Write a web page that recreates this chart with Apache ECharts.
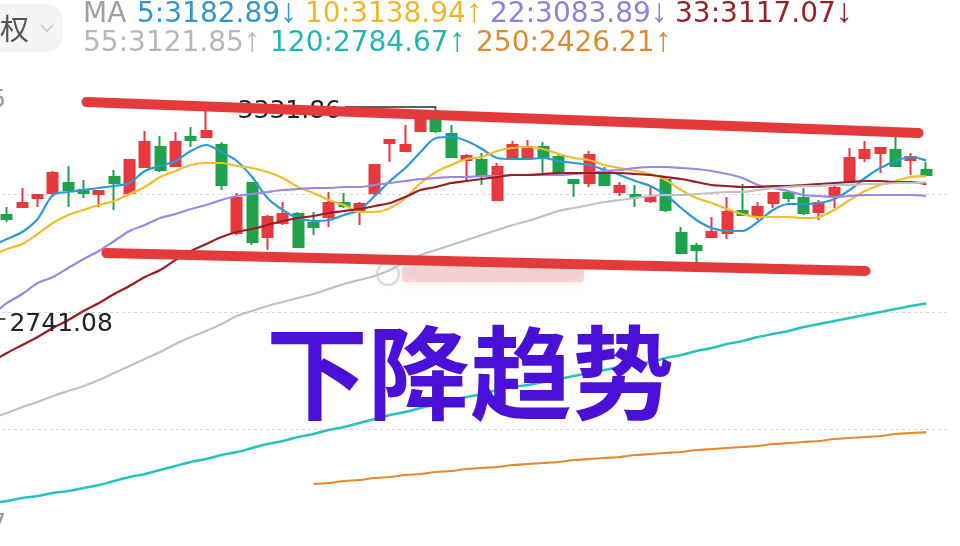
<!DOCTYPE html>
<html><head><meta charset="utf-8">
<script src="https://cdn.jsdelivr.net/npm/echarts@6/dist/echarts.min.js"></script>
<style>html,body{margin:0;padding:0;background:#fff;overflow:hidden}#c{width:960px;height:546px}</style>
</head><body><div id="c"></div>
<script>
// ---------- data (prices) ----------
// candles: [open, close, low, high]; first one is just off the left edge
const candles = [
 [2760.0, 2790.0, 2741.08, 2800.0],
 [3031.0, 3019.9, 3011.5, 3053.3],[3053.3, 3064.4, 3050.5, 3106.1],[3078.3, 3086.6, 3053.3, 3086.6],
 [3092.2, 3147.8, 3081.1, 3153.4],[3120.0, 3100.5, 3053.3, 3167.3],[3100.5, 3092.2, 3078.3, 3128.4],
 [3089.4, 3097.8, 3053.3, 3097.8],[3136.7, 3120.0, 3044.9, 3156.2],[3092.2, 3184.0, 3086.6, 3184.0],
 [3164.6, 3234.1, 3161.8, 3264.7],[3220.2, 3156.2, 3150.6, 3250.8],[3167.3, 3234.1, 3164.6, 3262.0],
 [3248.0, 3239.7, 3220.2, 3275.9],[3248.0, 3264.7, 3248.0, 3323.2],[3225.8, 3114.5, 3100.5, 3234.1],
 [2980.9, 3078.3, 2975.3, 3092.2],[3120.0, 2955.9, 2947.5, 3120.0],[2969.8, 3025.4, 2933.6, 3031.0],
 [3008.7, 3033.8, 3003.2, 3067.2],[3033.8, 2942.0, 2939.2, 3039.3],[3008.7, 2997.6, 2975.3, 3039.3],
 [3025.4, 3064.4, 2997.6, 3095.0],[3064.4, 3056.0, 3050.5, 3092.2],[3039.3, 3061.6, 3003.2, 3067.2],
 [3092.2, 3170.1, 3086.6, 3172.9],[3231.4, 3239.7, 3178.5, 3242.5],[3209.1, 3225.8, 3209.1, 3281.4],
 [3264.7, 3309.2, 3264.7, 3323.2],[3295.3, 3264.7, 3259.2, 3331.86],[3256.4, 3192.4, 3189.6, 3281.4],
 [3184.0, 3195.2, 3122.8, 3200.7],[3184.0, 3142.3, 3114.5, 3203.5],[3072.7, 3164.6, 3069.9, 3175.7],
 [3189.6, 3225.8, 3184.0, 3236.9],[3192.4, 3220.2, 3184.0, 3239.7],[3220.2, 3189.6, 3147.8, 3234.1],
 [3192.4, 3142.3, 3142.3, 3203.5],[3128.4, 3120.0, 3081.1, 3128.4],[3120.0, 3198.0, 3108.9, 3209.1],
 [3147.8, 3114.5, 3114.5, 3164.6],[3095.0, 3111.7, 3083.8, 3122.8],[3086.6, 3081.1, 3053.3, 3114.5],
 [3069.9, 3081.1, 3064.4, 3108.9],[3128.4, 3044.9, 3039.3, 3133.9],[2980.9, 2925.2, 2925.2, 2997.6],
 [2944.7, 2933.6, 2900.2, 2953.1],[2969.8, 2983.7, 2967.0, 3025.4],[2980.9, 3039.3, 2964.2, 3081.1],
 [3042.1, 3031.0, 3031.0, 3117.2],[3031.0, 3053.3, 3017.1, 3067.2],[3064.4, 3092.2, 3050.5, 3095.0],
 [3092.2, 3078.3, 3067.2, 3095.0],[3078.3, 3036.6, 3031.0, 3106.1],[3039.3, 3064.4, 3017.1, 3072.7],
 [3086.6, 3106.1, 3050.5, 3120.0],[3122.8, 3189.6, 3122.8, 3217.4],[3189.6, 3211.9, 3178.5, 3236.9],
 [3203.5, 3217.4, 3147.8, 3220.2],[3211.9, 3167.3, 3167.3, 3248.0],[3184.0, 3192.4, 3142.3, 3203.5],
 [3156.2, 3142.3, 3142.3, 3178.5]
];
const categories = candles.map((_, i) => 'K' + i).concat(['K' + candles.length]);

const ma5 = [2944.7, 2964.2, 2983.6, 3019.8, 3086.6, 3095.0, 3100.5, 3106.1, 3111.7, 3120.0,
 3153.4, 3167.3, 3181.2, 3209.1, 3225.8, 3206.3, 3181.2, 3136.7, 3078.3, 3044.9,
 3022.6, 3014.3, 3017.0, 3031.0, 3044.9, 3083.8, 3125.6, 3161.8, 3206.3, 3245.2,
 3248.0, 3236.9, 3214.6, 3189.6, 3186.8, 3186.8, 3189.6, 3181.2, 3175.7, 3170.1,
 3156.2, 3142.3, 3125.6, 3111.7, 3086.6, 3050.4, 3017.0, 2994.8, 2986.4, 2986.4,
 3011.5, 3044.9, 3061.6, 3061.6, 3064.3, 3075.5, 3100.5, 3133.9, 3161.8, 3181.2,
 3192.4, 3182.89];
const ma10 = [2916.9, 2936.3, 2950.2, 2978.1, 3008.7, 3031.0, 3044.9, 3058.8, 3069.9, 3089.4,
 3108.9, 3136.7, 3153.4, 3170.1, 3175.7, 3175.7, 3167.3, 3161.8, 3150.6, 3133.9,
 3108.9, 3092.2, 3072.7, 3058.8, 3039.3, 3039.3, 3050.4, 3078.3, 3120.0, 3150.6,
 3170.1, 3186.8, 3192.4, 3209.1, 3217.4, 3220.2, 3214.6, 3200.7, 3189.6, 3184.0,
 3170.1, 3161.8, 3153.4, 3145.1, 3128.4, 3100.5, 3078.3, 3064.3, 3047.7, 3033.7,
 3025.4, 3025.4, 3025.4, 3022.6, 3025.4, 3044.9, 3072.7, 3097.7, 3114.4, 3125.6,
 3136.7, 3138.94];
const ma22 = [2749.9, 2786.1, 2811.1, 2841.7, 2858.4, 2883.5, 2908.5, 2930.8, 2958.6, 2986.4,
 3003.1, 3022.6, 3033.7, 3047.7, 3058.8, 3072.7, 3083.8, 3089.4, 3095.0, 3100.5,
 3103.3, 3106.1, 3106.1, 3108.9, 3108.9, 3114.4, 3120.0, 3125.6, 3131.1, 3133.9,
 3136.7, 3136.7, 3139.5, 3139.5, 3142.3, 3142.3, 3142.3, 3142.3, 3145.1, 3147.8,
 3153.4, 3156.2, 3161.8, 3164.5, 3164.5, 3161.8, 3159.0, 3153.4, 3145.1, 3133.9,
 3114.4, 3106.1, 3097.7, 3086.6, 3083.8, 3081.0, 3083.8, 3086.6, 3086.6, 3086.6,
 3086.6, 3083.89];
const ma33 = [2621.9, 2646.9, 2669.2, 2691.4, 2716.5, 2738.7, 2763.8, 2786.1, 2811.1, 2833.4,
 2858.4, 2877.9, 2905.7, 2930.8, 2950.2, 2969.7, 2983.6, 2992.0, 3003.1, 3014.3,
 3022.6, 3028.2, 3036.5, 3042.1, 3047.7, 3056.0, 3064.3, 3081.0, 3100.5, 3108.9,
 3120.0, 3125.6, 3131.1, 3136.7, 3142.3, 3142.3, 3145.1, 3147.8, 3147.8, 3147.8,
 3147.8, 3147.8, 3145.1, 3142.3, 3136.7, 3131.1, 3122.8, 3114.4, 3111.7, 3108.9,
 3108.9, 3111.7, 3111.7, 3114.4, 3117.2, 3120.0, 3122.8, 3125.6, 3125.6, 3122.8,
 3122.8, 3117.07];
const ma55 = [2466.0, 2479.9, 2496.6, 2510.5, 2527.2, 2541.1, 2555.1, 2571.8, 2591.2, 2610.7,
 2630.2, 2649.7, 2671.9, 2691.4, 2708.1, 2727.6, 2749.9, 2763.8, 2777.7, 2788.8,
 2800.0, 2811.1, 2825.0, 2838.9, 2850.1, 2861.2, 2877.9, 2900.2, 2919.6, 2933.5,
 2947.5, 2961.4, 2975.3, 2989.2, 3003.1, 3014.3, 3028.2, 3042.1, 3050.4, 3058.8,
 3067.1, 3072.7, 3078.3, 3083.8, 3086.6, 3086.6, 3089.4, 3092.2, 3095.0, 3095.0,
 3100.5, 3106.1, 3108.9, 3111.7, 3111.7, 3114.4, 3114.4, 3117.2, 3117.2, 3120.0,
 3120.0, 3121.85];
const ma120 = [2229.5, 2235.0, 2243.4, 2248.9, 2257.3, 2262.8, 2271.2, 2279.5, 2290.7, 2301.8,
 2310.2, 2321.3, 2332.4, 2343.6, 2351.9, 2363.0, 2371.4, 2382.5, 2393.6, 2402.0,
 2413.1, 2421.5, 2432.6, 2441.0, 2452.1, 2463.2, 2474.4, 2482.7, 2493.8, 2505.0,
 2516.1, 2524.4, 2532.8, 2543.9, 2552.3, 2557.8, 2566.2, 2574.5, 2582.9, 2591.2,
 2599.6, 2607.9, 2616.3, 2621.9, 2633.0, 2641.3, 2652.5, 2660.8, 2671.9, 2680.3,
 2691.4, 2699.8, 2708.1, 2719.3, 2727.6, 2736.0, 2744.3, 2752.7, 2761.0, 2769.4,
 2777.7, 2784.67];
const ma250 = [null, null, null, null, null, null, null, null, null, null,
 null, null, null, null, null, null, null, null, null, null, null,
 2282.3, 2285.1, 2290.7, 2293.5, 2299.0, 2301.8, 2307.4, 2310.2, 2315.7, 2318.5,
 2324.1, 2326.9, 2329.6, 2335.2, 2338.0, 2340.8, 2343.6, 2349.1, 2351.9, 2354.7,
 2357.5, 2363.0, 2365.8, 2368.6, 2371.4, 2376.9, 2379.7, 2382.5, 2385.3, 2388.1,
 2393.6, 2396.4, 2399.2, 2402.0, 2407.6, 2410.4, 2413.1, 2415.9, 2421.5, 2424.3,
 2426.21];

const maPeriods = [5, 10, 22, 33, 55, 120, 250];
const maLast = [3182.89, 3138.94, 3083.89, 3117.07, 3121.85, 2784.67, 2426.21];
const maArrow = ['↓', '↑', '↓', '↓', '↑', '↑', '↑'];
const yRange = [2107, 3415];          // visible price range (bottom / top labels)
const highMark = 3331.86;
const lowMark = 2741.08;
// hand-drawn trend lines: [category position, price]
const trendUpper = [[6.19, 3345.4], [60.5, 3259.2]];
const trendLower = [[7.49, 2925.2], [57.04, 2875.1]];
const title = '下降趋势';

// ---------- styles ----------
const maSeriesData = [ma5, ma10, ma22, ma33, ma55, ma120, ma250];
const maColors = ['#2b9bd8', '#f1bd2c', '#9c86e6', '#9c1c25', '#c2c2c2', '#28c2bd', '#e6892c'];
const maText = ['#2f95d3', '#efb62a', '#8f80df', '#9a1f28', '#b8b8b8', '#1fb7b0', '#df8a2e'];
const hdrPos = [[137, 15], [305, 15], [490, 15], [675, 15], [83, 44], [270, 44], [476, 44]];

const N = categories.length;
const chart = echarts.init(document.getElementById('c'), null, {renderer: 'canvas'});

const graphics = [
  {type: 'rect', z: 1, shape: {x: -14, y: 4, width: 77, height: 48, r: 16}, style: {fill: '#f4f4f4'}},
  {type: 'text', z: 2, x: 0, y: 29, style: {text: '权', font: '29px "Noto Sans CJK SC"', fill: '#555', verticalAlign: 'middle'}},
  {type: 'polyline', z: 2, shape: {points: [[41, 25], [47, 31], [53, 25]]}, style: {stroke: '#c9c9c9', lineWidth: 1.6, fill: null}},
  {type: 'text', z: 2, x: 83, y: 15, style: {text: 'MA', font: '28px "DejaVu Sans"', fill: '#a0a0a0', verticalAlign: 'middle'}}
];
maPeriods.forEach((p, i) => {
  graphics.push({
    type: 'text', z: 2, x: hdrPos[i][0], y: hdrPos[i][1],
    style: {
      text: '{v|' + p + ':' + maLast[i].toFixed(2) + '}{a|' + maArrow[i] + '}',
      verticalAlign: 'middle',
      rich: {
        v: {fontSize: 28, fontFamily: 'DejaVu Sans', fill: maText[i]},
        a: {fontSize: 34, fontFamily: 'Liberation Sans', fill: maText[i], padding: [0, 0, 4, 0]}
      }
    }
  });
});
// blurred watermark
graphics.push({type: 'rect', z: 8, shape: {x: 402, y: 264, width: 182, height: 18, r: 4},
  style: {fill: 'rgba(236,178,178,0.45)', shadowBlur: 10, shadowColor: 'rgba(236,178,178,0.7)'}});
graphics.push({type: 'circle', z: 8, shape: {cx: 388, cy: 274, r: 11},
  style: {fill: 'none', stroke: 'rgba(200,200,200,0.6)', lineWidth: 2, shadowBlur: 4, shadowColor: 'rgba(200,200,200,0.6)'}});
// big purple annotation
graphics.push({type: 'text', z: 50, x: 470, y: 373,
  style: {text: title, font: 'bold 102px "Noto Sans CJK SC"', fill: '#4a10d8', align: 'center', verticalAlign: 'middle',
    shadowBlur: 3, shadowColor: 'rgba(190,150,255,0.7)'}});

const series = [{
  type: 'candlestick', name: 'K', xAxisIndex: 0, yAxisIndex: 0, z: 3,
  data: candles.concat(['-']),
  barWidth: 10.5,
  itemStyle: {color: '#e8393e', color0: '#1ea24b', borderColor: '#e8393e', borderColor0: '#1ea24b', borderWidth: 2}
}];
maSeriesData.forEach((d, i) => {
  series.push({
    type: 'line', name: 'MA' + maPeriods[i], xAxisIndex: 0, yAxisIndex: 0, z: 4,
    data: d.concat([null]), symbol: 'none', smooth: 0.3,
    lineStyle: {color: maColors[i], width: i === 5 ? 2.4 : 2.2}
  });
});
series.push({
  type: 'line', name: 'marks', xAxisIndex: 1, yAxisIndex: 0, z: 5, data: [], symbol: 'none',
  markLine: {
    silent: true, symbol: ['none', 'none'], animation: false,
    lineStyle: {color: '#2a2a2a', width: 1.6, type: 'solid'},
    label: {show: true, position: 'end', distance: 4, formatter: '{b}', color: '#222', fontSize: 25,
      fontFamily: 'DejaVu Sans', offset: [0, 5]},
    data: [
      [{coord: [29, highMark], name: highMark.toFixed(2)}, {coord: [23.06, highMark]}],
      [{coord: [0, lowMark], name: lowMark.toFixed(2)}, {coord: [0.9, lowMark]}]
    ]
  }
});
[trendUpper, trendLower].forEach((d, i) => {
  series.push({
    type: 'line', name: 'trend' + i, xAxisIndex: 1, yAxisIndex: 0, z: 10, data: d, symbol: 'none',
    lineStyle: {color: '#e53a3c', width: 10, cap: 'round'}
  });
});

chart.setOption({
  animation: false,
  backgroundColor: '#ffffff',
  grid: {left: -16, right: 10.8, top: 77, height: 470, containLabel: false, outerBoundsMode: 'none'},
  xAxis: [
    {type: 'category', data: categories, position: 'top', boundaryGap: true,
     axisLine: {show: true, lineStyle: {color: '#e2e2e2', width: 1.5}},
     axisTick: {show: false}, axisLabel: {show: false}, splitLine: {show: false}},
    {type: 'value', min: -0.5, max: N - 0.5, show: false}
  ],
  yAxis: [
    {type: 'value', min: yRange[0], max: yRange[1], position: 'left',
     axisLine: {show: false}, axisTick: {show: false}, splitLine: {show: false},
     axisLabel: {show: true, inside: false, margin: -22, color: '#9a9a9a', fontSize: 24, fontFamily: 'DejaVu Sans',
       formatter: v => v === yRange[1] ? '{t|' + v + '}' : (v === yRange[0] ? '{b|' + v + '}' : ''),
       rich: {t: {padding: [48, 0, 0, 0], fontSize: 24, color: '#9a9a9a', fontFamily: 'DejaVu Sans'},
              b: {padding: [0, 0, 44, 0], fontSize: 24, color: '#9a9a9a', fontFamily: 'DejaVu Sans'}}}},
    {type: 'value', min: 0, max: 4, interval: 1, show: true, position: 'right',
     axisLine: {show: false}, axisTick: {show: false}, axisLabel: {show: false},
     splitLine: {show: true, showMinLine: false, showMaxLine: false, lineStyle: {color: '#d6d6d6', type: [3, 3], width: 1}}}
  ],
  graphic: graphics,
  series: series
});
</script></body></html>
